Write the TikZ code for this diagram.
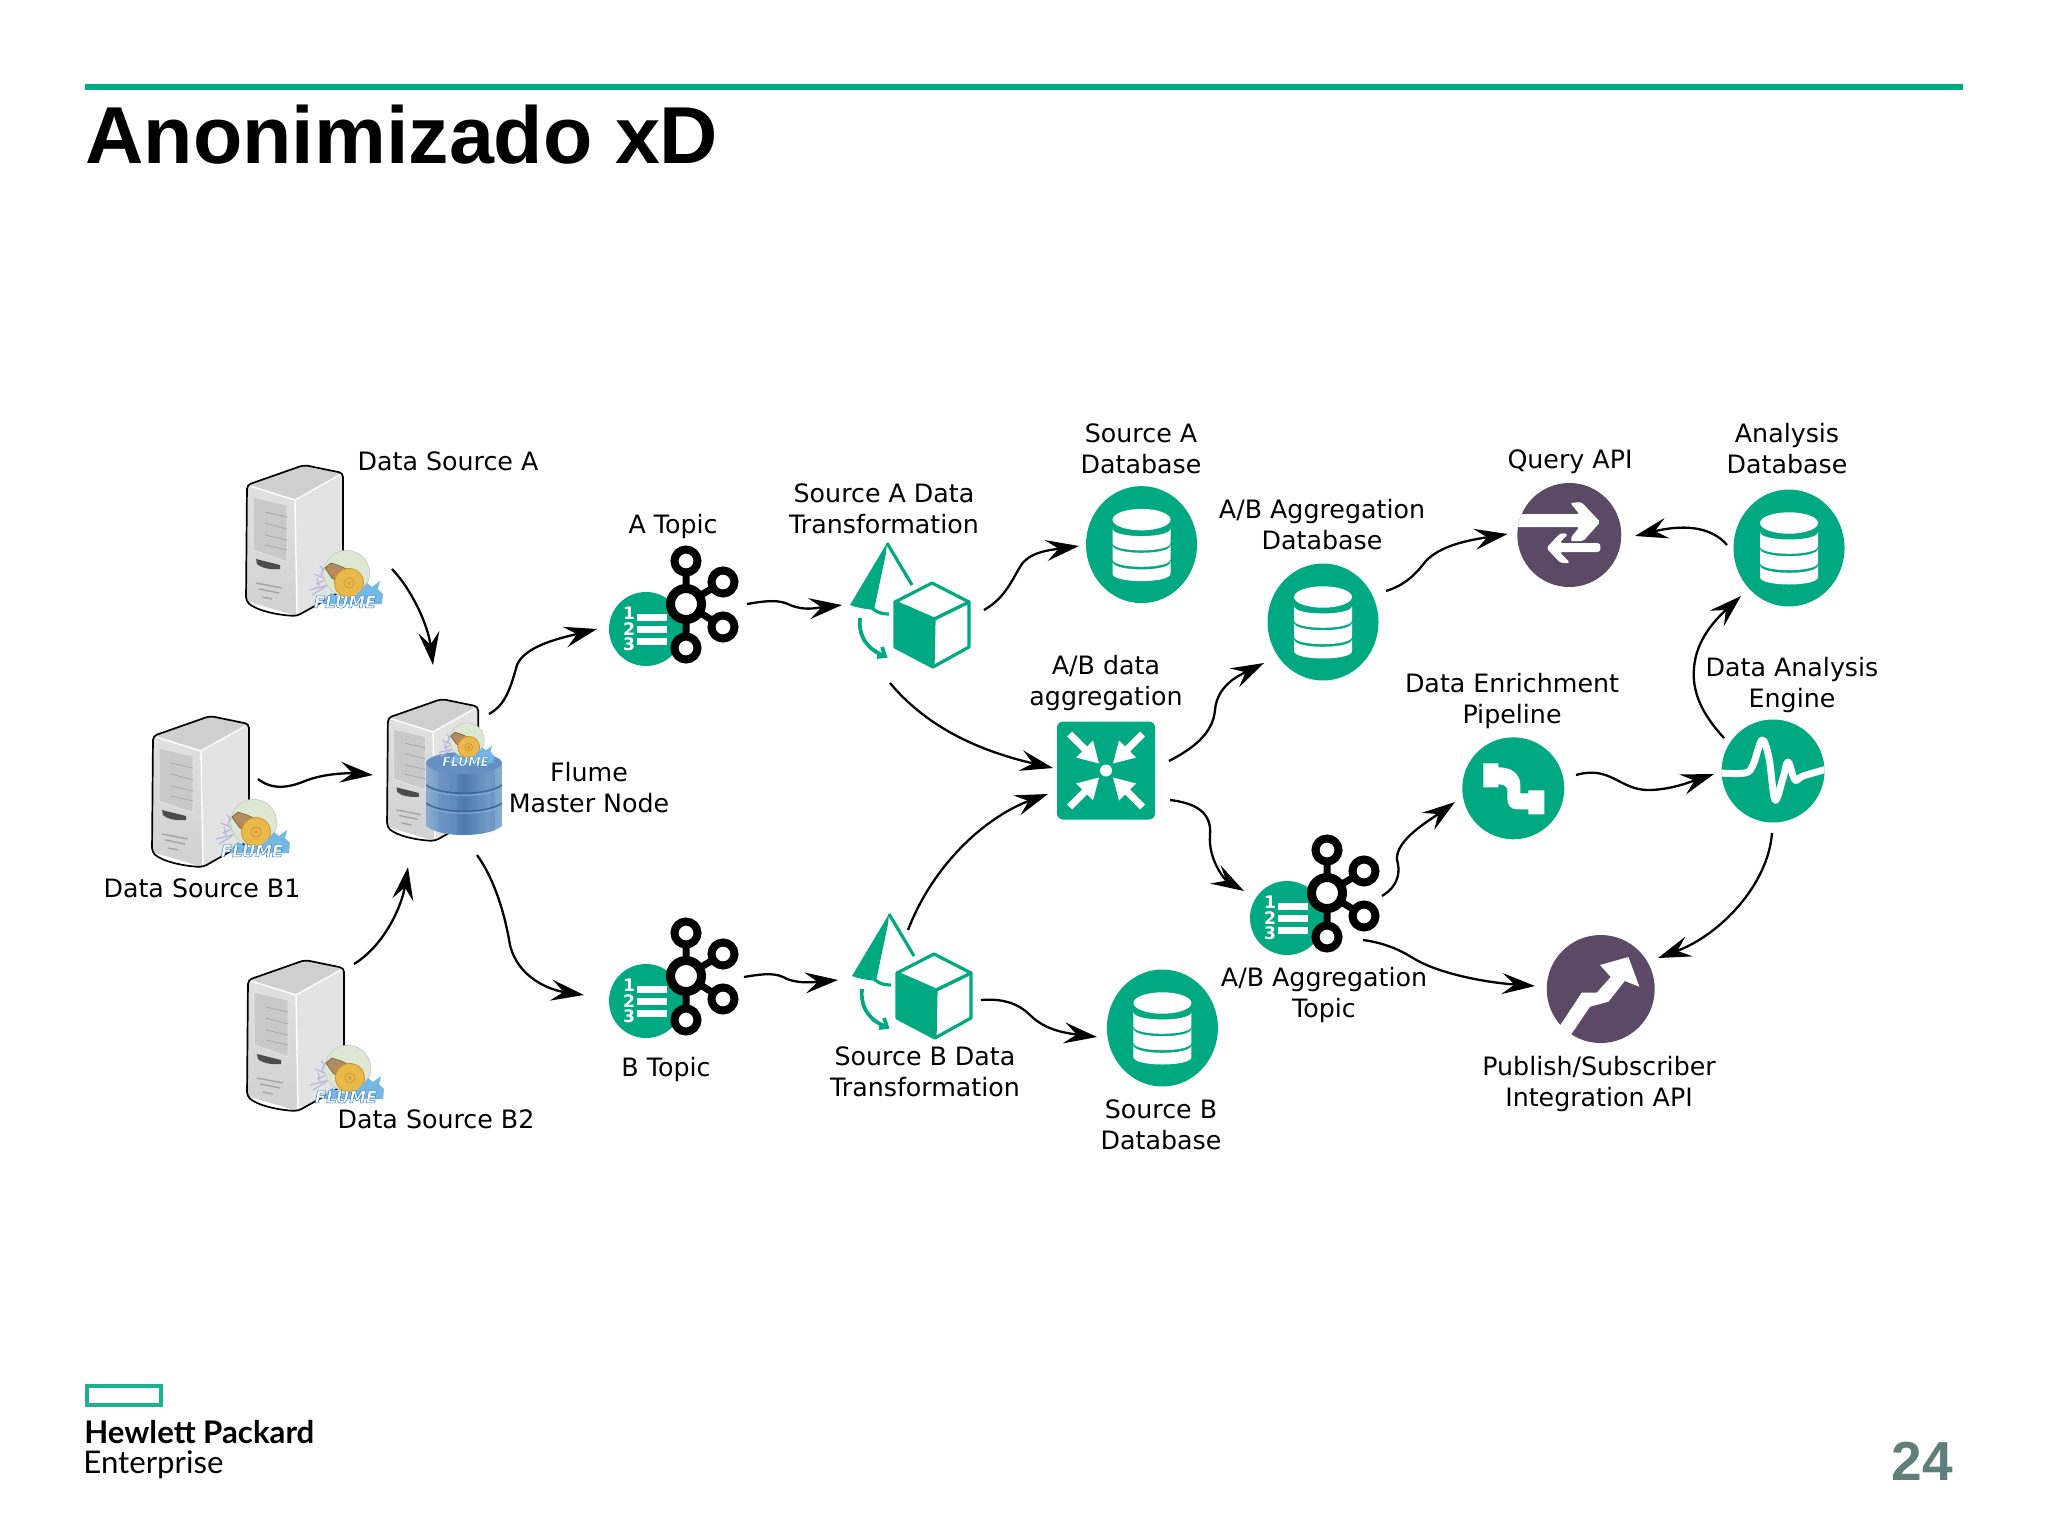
\documentclass[tikz,border=0pt]{standalone}
\usepackage{fontspec}
\setmainfont{DejaVu Sans}
\newfontfamily\libfont{Liberation Sans}
\newfontfamily\logofont{Lato}
\usetikzlibrary{arrows.meta}
\definecolor{hpegreen}{HTML}{01A982}
\definecolor{hpepurple}{HTML}{5C4966}
\definecolor{pagegrey}{HTML}{5F7F7A}
\definecolor{flumeglobe}{HTML}{DCE7D4}
\definecolor{flumebrown}{HTML}{B48C60}
\definecolor{flumegear}{HTML}{E9B94C}
\definecolor{flumegearline}{HTML}{C9922E}
\definecolor{flumesplash}{HTML}{74B6E4}
\definecolor{flumefrond}{HTML}{B4B6DC}
\definecolor{flumetext}{HTML}{2F7CC4}
\definecolor{cylA}{HTML}{8AADD4}
\definecolor{cylB}{HTML}{4C79AF}
\definecolor{cylC}{HTML}{6690C2}
\definecolor{cylLine}{HTML}{3E689C}
\tikzset{
  conn/.style={draw=black,line width=1.15pt,-{Stealth[length=16.5pt,width=10.5pt,inset=6.2pt]}},
  spot/.style={inner sep=0pt,minimum size=20pt},
  lbl/.style={align=center,inner sep=0pt,font=\fontsize{12.65}{15.5}\selectfont},
  server/.pic={
    \shade[top color=black!12,bottom color=black!18] (1,20) -- (49,35) -- (51,151) -- (0,136) -- cycle;
    \fill[black!11] (49,35) -- (97,8) -- (97,125) -- (51,151) -- cycle;
    \fill[black!19] (1,20) -- (58,0) -- (97,8) -- (49,35) -- cycle;
    \draw[white,line width=.7pt] (1,20) -- (49,35) -- (97,8) (49,35) -- (51,151);
    \fill[black!21,draw=black!11,line width=.5pt] (7,32) -- (41,40) -- (41,97) -- (7,85) -- cycle;
    \draw[black!36,line width=.35pt] (19,47)--(41,52) (19,58)--(41,64) (19,70)--(41,75) (19,80)--(41,85);
    \fill[black!70] (10,94) -- (34,100) -- (34,104) .. controls (25,105) and (15,103) .. (11,99) -- cycle;
    \draw[black!36,line width=.7pt] (10,118) -- (36,123) (13,124) -- (33,128) (16,132) -- (26,134);
    \draw[black,line width=.85pt,line join=round,rounded corners=2]
      (1,20) -- (58,0) -- (97,8) -- (97,125) -- (51,151) .. controls (30,150) and (10,145) .. (0,136) -- cycle;
  },
  flume/.pic={
    \draw[flumefrond,line width=.6pt] (-12,4)--(-36,10) (-12,2)--(-31,-6) (-12,0)--(-25,-14) (-20,0)--(-29,4) (-20,7)--(-33,15) (-24,-4)--(-22,-12) (-26,6)--(-28,-2);
    \fill[flumeglobe,draw=black!22,line width=.3pt] (1.7,-6.7) circle [radius=23];
    \fill[flumebrown,draw=flumebrown!60!black,line width=.3pt] (-20,-12) -- (-14,-17) -- (-5,-14) -- (8,-8) -- (-3,5) -- (-13,-2) -- cycle;
    \fill[flumegear,draw=flumegearline,line width=.4pt] (4,3) circle [radius=14.5];
    \draw[flumegearline,line width=.3pt] (4,3) circle [radius=5] (4,3) circle [radius=1.5];
    \fill[flumesplash] (-20,19) -- (-14,13) -- (-4,18) -- (8,18) -- (18,8) -- (22,3) -- (27,7) -- (35,1) -- (33,9) -- (38,14) -- (37,24) -- (-22,24) -- cycle;
    \node[transform shape,inner sep=0pt,font=\fontsize{8.3}{9}\bfseries\itshape\selectfont] (flumeword) at (0,22) {\textcolor{flumetext}{\special{pdf:code 2 Tr 0.25 w 1 1 1 rg}FLUME\special{pdf:code 0 Tr}}};
  },
  topic/.pic={
    \fill[hpegreen] (-40,25) circle [radius=37];
    \foreach \y in {13,25,37} \fill[white] (-49,\y-3.5) rectangle (-19,\y+3.5);
    \foreach \y/\n in {9/1,25/2,40/3}
      \node[inner sep=0pt,text=white,font=\fontsize{8.6}{8.6}\bfseries\selectfont] at (-57,\y) {\n};
    \draw[black,line width=3.5pt] (0,-43) -- (0,44) (0,0) -- (37,-22) (0,0) -- (37,23);
    \foreach \x/\y in {0/-43,37/-22,37/23,0/44}
      \draw[black,fill=white,line width=4pt] (\x,\y) circle [radius=11.5];
    \draw[black,fill=white,line width=4.5pt] (0,0) circle [radius=15.5];
  },
  transform/.pic={
    \fill[hpegreen,line join=round] (-46,-82) -- (-83,-20) .. controls (-75,-17) and (-67,-16) .. (-59,-15) -- (-47,-72) -- cycle;
    \draw[hpegreen,line width=1.6pt] (-46,-82) -- (-21,-40);
    \draw[hpegreen,line width=1.6pt] (-60,-16) .. controls (-55,-12) and (-50,-11) .. (-44,-11);
    \draw[hpegreen,line width=1.9pt] (-73,-7) .. controls (-75,12) and (-65,25) .. (-48,31);
    \draw[hpegreen,line width=1.9pt] (-56,32) -- (-48,31) -- (-51,22);
    \fill[hpegreen] (-38,-23) -- (1,-6) -- (0,42) -- (-38,22) -- cycle;
    \draw[hpegreen,fill=white,line width=1.6pt,line join=round] (1,-6) -- (36,-23) -- (36,22) -- (0,42) -- cycle;
    \draw[hpegreen,fill=white,line width=1.6pt,line join=round] (-1,-42) -- (36,-23) -- (1,-6) -- (-38,-23) -- cycle;
    \draw[hpegreen,line width=1.6pt,line join=round] (-38,-23) -- (-38,22) -- (0,42);
  },
  dbicon/.pic={
    \fill[hpegreen] (0,0) ellipse [x radius=55.5,y radius=58.5];
    \fill[white] (0,-25) ellipse [x radius=29,y radius=10.7];
    \foreach \t/\b in {-16/-1.7,0.7/14.7,17.3/29}
      \fill[white] (-29,\t) .. controls (-29,\t+10) and (29,\t+10) .. (29,\t) -- (29,\b) .. controls (29,\b+10) and (-29,\b+10) .. (-29,\b) -- cycle;
  },
  queryicon/.pic={
    \fill[hpepurple] (0,0) circle [radius=52];
    \begin{scope}
      \clip (0,0) circle [radius=52];
      \fill[white,rounded corners=1] (-55,-21) -- (10,-21) -- (1,-32) -- (12,-33) -- (31,-13) -- (14,6) -- (-1,6) -- (10,-8) -- (-55,-8) -- cycle;
    \end{scope}
    \fill[hpepurple] (-12,5) -- (2,-3) -- (2,8) -- cycle;
    \fill[white,rounded corners=1.5] (-23,13) -- (-9,-2) -- (-1,-1) -- (-10,8) -- (31,8) -- (31,17) -- (-10,17) -- (1,28) -- (-9,28) -- cycle;
  },
  pipeicon/.pic={
    \fill[hpegreen] (0,0) circle [radius=51];
    \fill[white] (-30,-25) -- (-15,-25) -- (-15,-21) .. controls (0,-21) and (7,-13) .. (7,-3) -- (7,5) -- (15,5) -- (15,2) -- (31,2) -- (31,26) -- (15,26) -- (15,21) -- (3,21) .. controls (-3,21) and (-6,16) .. (-6,10) -- (-6,2) .. controls (-6,-2) and (-10,-4) .. (-15,-4) -- (-15,-1) -- (-30,-1) -- cycle;
  },
  engineicon/.pic={
    \fill[hpegreen] (0,0) circle [radius=51.5];
    \begin{scope}
      \clip (0,0) circle [radius=51.5];
      \draw[white,line width=3.5pt,line join=round] plot[smooth,tension=.55] coordinates {(-54,2) (-28,2) (-20,-6) (-11,-31) (-4,-13) (2,29) (10,7) (15,-9) (22,9) (30,5) (54,-2)};
    \end{scope}
  },
  pubicon/.pic={
    \fill[hpepurple] (0,0) circle [radius=54];
    \fill[white] (-41,37) -- (-19,3.7) -- (-4,3.7) -- (10,-12) -- (-.7,-24) -- (27.7,-32) -- (38.7,-2.3) -- (24,-8) -- (7.7,12.7) -- (-10.7,17.7) -- (-30,46) -- cycle;
  },
  aggicon/.pic={
    \fill[hpegreen,rounded corners=3pt] (-49,-49) rectangle (49,49);
    \fill[white] (0,0) circle [radius=6];
    \foreach \a in {0,90,180,270}
      \fill[white,rotate=\a] (-7,-7) -- (-30,-13) -- (-24,-19) -- (-39,-34) -- (-34,-39) -- (-19,-24) -- (-13,-30) -- cycle;
  }
}
\begin{document}
\begin{tikzpicture}[x=.5pt,y=-.5pt]
\useasboundingbox (0,0) rectangle (2048,1536);
\fill[white] (0,0) rectangle (2048,1536);

% header
\draw[hpegreen,line width=2.6pt] (85,87) -- (1963,87);
\node[anchor=base west,inner sep=0pt,font=\libfont\fontsize{40.4}{44}\bfseries\selectfont] (title) at (85,163) {Anonimizado xD};

% footer
\draw[hpegreen!90!white,line width=2pt] (87,1386) rectangle (161,1405);
\node[anchor=base west,inner sep=0pt,font=\logofont\fontsize{15.6}{16}\bfseries\selectfont] (hpe1) at (84,1443) {Hewlett Packard};
\node[anchor=base west,inner sep=0pt,font=\logofont\fontsize{15.6}{16}\selectfont] (hpe2) at (83,1473) {Enterprise};
\node[anchor=base east,inner sep=0pt,text=pagegrey,font=\libfont\fontsize{27.5}{30}\bfseries\selectfont] (pagenum) at (1953,1480) {24};

% servers
\pic at (246,465) {server};
\pic at (246+99,465+115) {flume};
\node[spot] (srvA) at (294,540) {};
\pic at (152,716) {server};
\pic at (152+100,716+113) {flume};
\node[spot] (srvBa) at (200,791) {};
\pic at (247,960) {server};
\pic at (247+99,960+115) {flume};
\node[spot] (srvBb) at (295,1035) {};

% master node
\pic[scale=.94] at (387,699) {server};
\begin{scope}
  \clip (426,763) -- (426,826) .. controls (440,838) and (488,838) .. (502,826) -- (502,763) -- cycle;
  \shade[left color=cylA,right color=cylA,middle color=cylB] (426,755) rectangle (502,840);
  \foreach \x/\w in {438/7,452/5,478/6,490/5}
    \fill[cylC,opacity=.55] (\x,755) rectangle (\x+\w,840);
  \draw[cylLine,line width=.8pt] (426,785) .. controls (440,796) and (488,796) .. (502,785) (426,803) .. controls (440,814) and (488,814) .. (502,803);
  \draw[cylA,line width=.5pt] (426,787) .. controls (440,798) and (488,798) .. (502,787) (426,805) .. controls (440,816) and (488,816) .. (502,805);
\end{scope}
\fill[cylC] (464,763) ellipse [x radius=38,y radius=11];
\pic[scale=.75] at (465.7,745) {flume};
\node[spot] (master) at (432,770) {};

% topics
\pic at (686,604) {topic};
\node[spot] (topA) at (686,604) {};
\pic at (686,976) {topic};
\node[spot] (topB) at (686,976) {};
\pic at (1327,893) {topic};
\node[spot] (topAB) at (1327,893) {};

% transformations
\pic at (933,625) {transform};
\node[spot] (trA) at (933,625) {};
\pic at (935,996) {transform};
\node[spot] (trB) at (935,996) {};

% databases and services
\pic at (1141.5,544.6) {dbicon};
\node[spot] (dbA) at (1141.5,544.6) {};
\pic at (1323,622) {dbicon};
\node[spot] (dbAB) at (1323,622) {};
\pic at (1789,548) {dbicon};
\node[spot] (dbAn) at (1789,548) {};
\pic at (1162.4,1028) {dbicon};
\node[spot] (dbB) at (1162.4,1028) {};
\pic at (1569.3,535) {queryicon};
\node[spot] (query) at (1569.3,535) {};
\pic at (1513.3,788.3) {pipeicon};
\node[spot] (pipeline) at (1513.3,788.3) {};
\pic at (1773,771) {engineicon};
\node[spot] (engine) at (1773,771) {};
\pic at (1600.7,989) {pubicon};
\node[spot] (pub) at (1600.7,989) {};
\pic at (1106,770.5) {aggicon};
\node[spot] (agg) at (1106,770.5) {};

% labels
\node[lbl] (lDSA) at (448,461) {Data Source A};
\node[lbl] (lDSB1) at (202,888) {Data Source B1};
\node[lbl] (lDSB2) at (436,1119) {Data Source B2};
\node[lbl] (lMaster) at (589,788) {Flume\\Master Node};
\node[lbl] (lTA) at (673,526.5) {A Topic};
\node[lbl] (lTB) at (666,1069.5) {B Topic};
\node[lbl] (lTrA) at (884,509) {Source A Data\\Transformation};
\node[lbl] (lTrB) at (925,1072) {Source B Data\\Transformation};
\node[lbl] (lDbA) at (1141,449) {Source A\\Database};
\node[lbl] (lDbB) at (1161,1124.5) {Source B\\Database};
\node[lbl] (lDbAB) at (1322,525) {A/B Aggregation\\Database};
\node[lbl] (lAgg) at (1106,683) {A/B data\\aggregation};
\node[lbl] (lTAB) at (1324,995) {A/B Aggregation\\Topic};
\node[lbl] (lQ) at (1570,462) {Query API};
\node[lbl] (lAn) at (1787,449) {Analysis\\Database};
\node[lbl] (lPipe) at (1512,701.5) {Data Enrichment\\Pipeline};
\node[lbl] (lEng) at (1792,685.5) {Data Analysis\\Engine};
\node[lbl] (lPub) at (1599,1084) {Publish/Subscriber\\Integration API};

% connectors
\draw[conn] ([shift={(98,29)}]srvA.center) .. controls (412,590) and (428,625) .. ([shift={(1,-105)}]master.center);
\draw[conn] ([shift={(58,-12)}]srvBa.center) .. controls (272,790) and (288,788) .. (305,781) .. controls (325,773) and (350,773) .. ([shift={(-59,5)}]master.center);
\draw[conn] ([shift={(59,-71)}]srvBb.center) .. controls (385,945) and (402,905) .. ([shift={(-24,97)}]master.center);
\draw[conn] ([shift={(57,-56)}]master.center) .. controls (505,705) and (510,690) .. (517,665) .. controls (525,645) and (565,637) .. ([shift={(-89,25)}]topA.center);
\draw[conn] ([shift={(45,85)}]master.center) .. controls (495,880) and (505,915) .. (510,945) .. controls (518,978) and (550,990) .. ([shift={(-102,19)}]topB.center);
\draw[conn] ([shift={(61,0)}]topA.center) .. controls (770,600) and (780,600) .. (790,605) .. controls (805,611) and (815,608) .. ([shift={(-91,-20)}]trA.center);
\draw[conn] ([shift={(58,1)}]topB.center) .. controls (767,973) and (777,973) .. (787,979) .. controls (800,984) and (815,982) .. ([shift={(-97,-16)}]trB.center);
\draw[conn] ([shift={(51,-15)}]trA.center) .. controls (1005,598) and (1012,580) .. (1020,567) .. controls (1028,552) and (1050,550) .. ([shift={(-62.5,1.4)}]dbA.center);
\draw[conn] ([shift={(-43,58)}]trA.center) .. controls (925,725) and (975,750) .. ([shift={(-53,-2.5)}]agg.center);
\draw[conn] ([shift={(-27,-66)}]trB.center) .. controls (935,860) and (990,815) .. ([shift={(-58,23.5)}]agg.center);
\draw[conn] ([shift={(46,4)}]trB.center) .. controls (1005,998) and (1020,1005) .. (1030,1015) .. controls (1045,1030) and (1065,1033) .. ([shift={(-65.4,9)}]dbB.center);
\draw[conn] ([shift={(63,-9.5)}]agg.center) .. controls (1190,750) and (1213,735) .. (1215,710) .. controls (1217,685) and (1240,675) .. ([shift={(-59,41)}]dbAB.center);
\draw[conn] ([shift={(64,29.5)}]agg.center) .. controls (1195,803) and (1212,812) .. (1210,835) .. controls (1208,860) and (1225,880) .. ([shift={(-83,-2)}]topAB.center);
\draw[conn] ([shift={(63,-31)}]dbAB.center) .. controls (1405,585) and (1415,575) .. (1425,562) .. controls (1440,545) and (1470,540) .. ([shift={(-61.8,-1)}]query.center);
\draw[conn] ([shift={(-62,-3)}]dbAn.center) .. controls (1710,525) and (1680,525) .. ([shift={(65.7,1)}]query.center);
\draw[conn] ([shift={(55,3)}]topAB.center) .. controls (1400,885) and (1400,870) .. (1397,860) .. controls (1395,840) and (1430,820) .. ([shift={(-58.3,13.7)}]pipeline.center);
\draw[conn] ([shift={(36,47)}]topAB.center) .. controls (1385,943) and (1400,950) .. (1413,958) .. controls (1435,972) and (1480,982) .. ([shift={(-65.7,-3)}]pub.center);
\draw[conn] ([shift={(62.7,-13.3)}]pipeline.center) .. controls (1610,765) and (1620,790) .. (1648,790) .. controls (1670,790) and (1690,782) .. ([shift={(-59,3)}]engine.center);
\draw[conn] ([shift={(-49,-33)}]engine.center) .. controls (1700,712) and (1692,690) .. (1694,668) .. controls (1696,640) and (1715,620) .. ([shift={(-48,48)}]dbAn.center);
\draw[conn] ([shift={(-1,62)}]engine.center) .. controls (1768,885) and (1720,935) .. ([shift={(57.3,-31)}]pub.center);
\end{tikzpicture}
\end{document}
